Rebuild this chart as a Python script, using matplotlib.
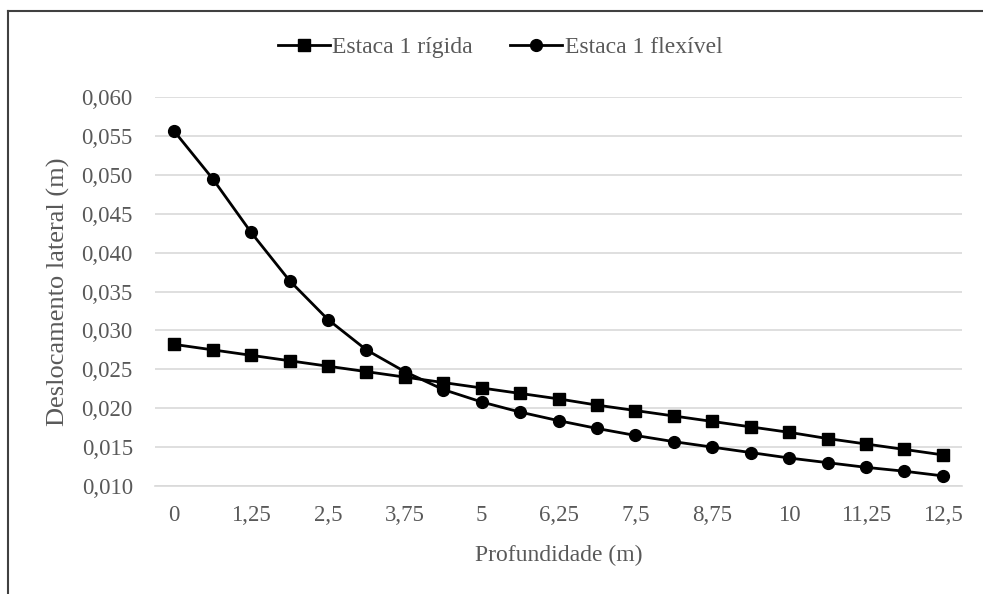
import matplotlib
matplotlib.use("Agg")
import matplotlib.pyplot as plt
from matplotlib.lines import Line2D
import numpy as np

# Depth along the pile (m) and lateral displacement (m)
profundidade = [0, 0.625, 1.25, 1.875, 2.5, 3.125, 3.75, 4.375, 5, 5.625, 6.25,
                6.875, 7.5, 8.125, 8.75, 9.375, 10, 10.625, 11.25, 11.875, 12.5]
rigida = [0.0282, 0.0275, 0.0268, 0.0261, 0.0254, 0.0247, 0.0240, 0.0233, 0.0226, 0.0219, 0.0212,
          0.0204, 0.0197, 0.0190, 0.0183, 0.0176, 0.0169, 0.0161, 0.0154, 0.0147, 0.0140]
flexivel = [0.0556, 0.0495, 0.0426, 0.0364, 0.0314, 0.0275, 0.0247, 0.0224, 0.0208, 0.0195, 0.0184,
            0.0174, 0.0165, 0.0157, 0.0150, 0.0143, 0.0136, 0.0130, 0.0124, 0.0119, 0.0113]
y_ticks = [0.010, 0.015, 0.020, 0.025, 0.030, 0.035, 0.040, 0.045, 0.050, 0.055, 0.060]

plt.rcParams['font.family'] = ['Liberation Serif', 'DejaVu Serif']
txt = '#595959'

fig = plt.figure(figsize=(9.83, 5.94), dpi=100)
ax = fig.add_axes([155/983, 1-486/594, 807/983, 389/594])

idx = np.arange(len(profundidade))
ax.plot(idx, rigida, color='black', lw=2, marker='s', ms=8.5, label='Estaca 1 rígida')
ax.plot(idx, flexivel, color='black', lw=2, marker='o', ms=8.5, label='Estaca 1 flexível')

ax.set_xlim(-0.5, len(profundidade) - 0.5)
ax.set_ylim(0.010, 0.060)
ax.set_yticks(y_ticks)
ax.set_yticklabels([f"{v:.3f}".replace('.', ',') for v in y_ticks])

def fmt(v):
    s = f"{v:g}"
    return s.replace('.', ',')

ax.set_xticks(idx[::2])
ax.set_xticklabels([fmt(v) for v in profundidade[::2]])

ax.grid(axis='y', color='#d9d9d9', lw=1.2)
ax.set_axisbelow(True)
for side in ['top', 'right', 'left']:
    ax.spines[side].set_visible(False)
ax.spines['bottom'].set_color('#d9d9d9')
ax.spines['bottom'].set_linewidth(1.2)
ax.tick_params(axis='both', length=0, labelsize=16.5, labelcolor=txt)
ax.tick_params(axis='y', pad=16)
ax.tick_params(axis='x', pad=14)

ax.set_xlabel('Profundidade (m)', fontsize=17, color=txt)
ax.set_ylabel('Deslocamento lateral (m)', fontsize=19, color=txt)
ax.xaxis.set_label_coords(0.5, -0.152)
ax.yaxis.set_label_coords(-0.105, 0.5)

leg = fig.legend(loc='center', bbox_to_anchor=(500/983, 1-47/594), ncol=2, frameon=False,
                 fontsize=17, handlelength=2.2, handletextpad=0.1, columnspacing=1.6)
for t in leg.get_texts():
    t.set_color(txt)

# chart frame
fig.add_artist(Line2D([8/983, 8/983], [0, 1-11/594], color='#404040', lw=1.5, transform=fig.transFigure))
fig.add_artist(Line2D([8/983, 1], [1-11/594, 1-11/594], color='#404040', lw=1.5, transform=fig.transFigure))

fig.savefig('out.png', dpi=100)
